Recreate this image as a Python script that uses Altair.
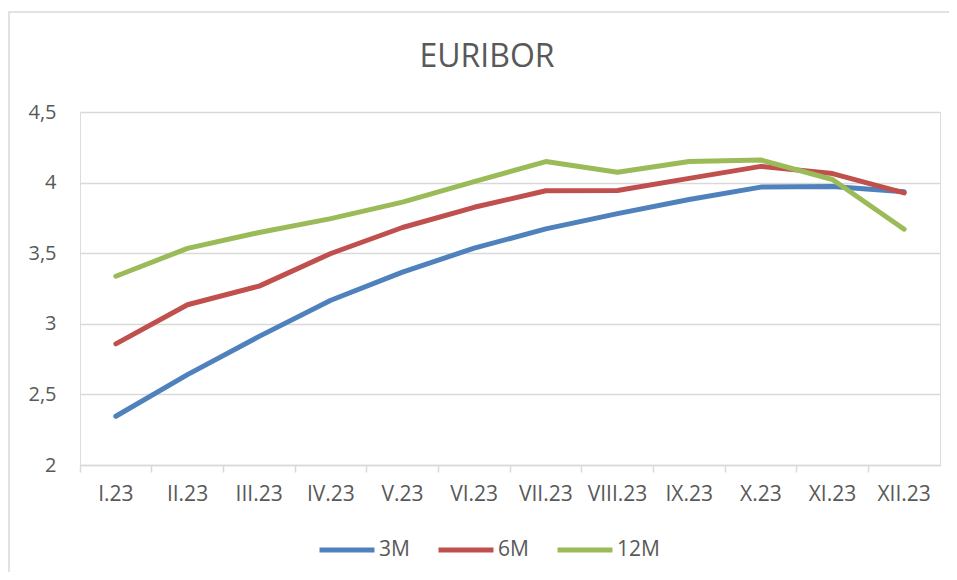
import altair as alt
import pandas as pd

months = ["I.23", "II.23", "III.23", "IV.23", "V.23", "VI.23",
          "VII.23", "VIII.23", "IX.23", "X.23", "XI.23", "XII.23"]
m3 = [2.345, 2.640, 2.911, 3.167, 3.366, 3.536, 3.672, 3.780, 3.880, 3.968, 3.972, 3.935]
m6 = [2.858, 3.135, 3.267, 3.498, 3.682, 3.825, 3.942, 3.944, 4.030, 4.115, 4.064, 3.927]
m12 = [3.337, 3.534, 3.647, 3.745, 3.862, 4.007, 4.149, 4.073, 4.149, 4.160, 4.022, 3.670]
series = ["3M", "6M", "12M"]
colors = ["#4F81BD", "#C0504D", "#9BBB59"]

rows = []
for name, vals in zip(series, [m3, m6, m12]):
    for mo, v in zip(months, vals):
        rows.append({"month": mo, "series": name, "value": v})
df = pd.DataFrame(rows)

FONT = "Open Sans"
GRAY = "#595959"
GRID = "#d9d9d9"

lines = alt.Chart(df).mark_line(strokeWidth=5, strokeCap="round", strokeJoin="round").encode(
    x=alt.X("month:N", sort=months,
            scale=alt.Scale(type="band", paddingInner=0, paddingOuter=0),
            axis=alt.Axis(title=None, labelAngle=0, bandPosition=0, grid=False,
                          domainColor=GRID, domainWidth=1.5, tickColor=GRID, tickWidth=1.5,
                          tickSize=7, labelPadding=11, labelFontSize=21, labelColor=GRAY,
                          labelFont=FONT)),
    y=alt.Y("value:Q", scale=alt.Scale(domain=[2, 4.5], nice=False, zero=False),
            axis=alt.Axis(title=None, values=[2, 2.5, 3, 3.5, 4, 4.5], domain=False, ticks=False,
                          gridColor=GRID, gridWidth=1.5, labelPadding=24, labelFontSize=20,
                          labelColor=GRAY, labelFont=FONT,
                          labelExpr="replace(format(datum.value, '.1~f'), '.', ',')")),
    color=alt.Color("series:N", scale=alt.Scale(domain=series, range=colors),
                    legend=alt.Legend(title=None, orient="none", legendX=237, legendY=408,
                                      direction="horizontal", symbolType="stroke",
                                      symbolSize=3025, symbolStrokeWidth=5, labelOffset=2,
                                      columnPadding=18, labelFontSize=21, labelColor=GRAY,
                                      labelFont=FONT)),
    order=alt.Order("series:N"),
)

frame = alt.Chart(pd.DataFrame({"a": [0]})).mark_rect(
    fill=None, stroke=GRID, strokeWidth=1.5
).encode(x=alt.value(-71), y=alt.value(-100), x2=alt.value(1200), y2=alt.value(1200))

chart = alt.layer(frame, lines).properties(
    width=860, height=353,
    title=alt.Title("EURIBOR", fontSize=32, color=GRAY, font=FONT, fontWeight="normal",
                    anchor="middle", frame="group", dx=-23, offset=-88, baseline="alphabetic"),
    autosize=alt.AutoSizeParams(type="none"),
    padding={"left": 72, "top": 104, "right": 9, "bottom": 107},
).configure_view(stroke=None).configure(background="white")

chart.save("out.html", embed_options={"renderer": "svg", "actions": False})
